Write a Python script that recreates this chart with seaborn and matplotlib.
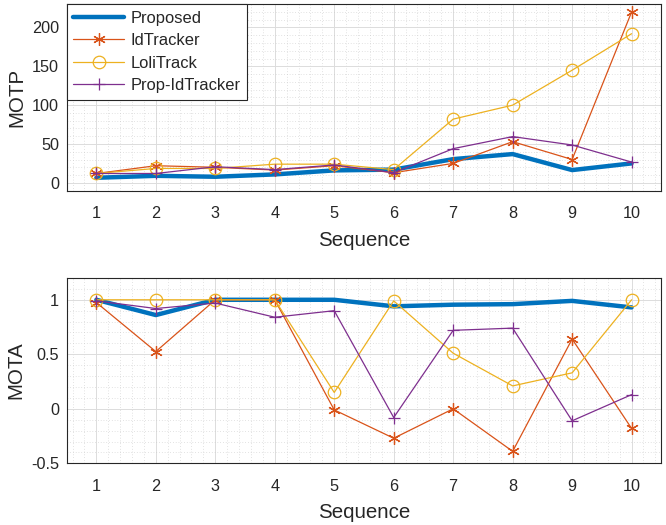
import matplotlib
matplotlib.use("Agg")
import matplotlib.pyplot as plt
import pandas as pd
import seaborn as sns
from matplotlib.ticker import MultipleLocator

# Data
sequence = [1, 2, 3, 4, 5, 6, 7, 8, 9, 10]
methods = ["Proposed", "IdTracker", "LoliTrack", "Prop-IdTracker"]

motp_proposed = [6.5, 9, 7.8, 10.8, 16, 17, 30.5, 37, 16.4, 25]
motp_idtracker = [12, 22, 20, 16.4, 22, 13, 25, 53, 30, 220]
motp_lolitrack = [12, 18.5, 18.5, 24, 24, 17, 82, 100, 145, 192]
motp_propid = [12, 12, 20.7, 17, 23, 13, 44, 59.5, 48.7, 26.7]

mota_proposed = [1.0, 0.86, 1.0, 1.0, 1.0, 0.94, 0.955, 0.96, 0.99, 0.93]
mota_idtracker = [0.975, 0.525, 1.0, 1.0, -0.01, -0.27, 0.0, -0.39, 0.64, -0.18]
mota_lolitrack = [1.0, 1.0, 1.0, 1.0, 0.15, 0.99, 0.51, 0.21, 0.33, 1.0]
mota_propid = [0.99, 0.92, 0.97, 0.84, 0.90, -0.08, 0.72, 0.74, -0.11, 0.13]

colors = {"Proposed": "#0072BD", "IdTracker": "#D95319",
          "LoliTrack": "#EDB120", "Prop-IdTracker": "#7E2F8E"}
markers = {"Proposed": None, "IdTracker": (6, 2, 0),
           "LoliTrack": "o", "Prop-IdTracker": "+"}
widths = {"Proposed": 3.2, "IdTracker": 0.9, "LoliTrack": 0.9, "Prop-IdTracker": 0.9}

motp = {"Proposed": motp_proposed, "IdTracker": motp_idtracker,
        "LoliTrack": motp_lolitrack, "Prop-IdTracker": motp_propid}
mota = {"Proposed": mota_proposed, "IdTracker": mota_idtracker,
        "LoliTrack": mota_lolitrack, "Prop-IdTracker": mota_propid}

sns.set_style("white")
plt.rcParams["font.family"] = ["Liberation Sans", "DejaVu Sans"]

fig = plt.figure(figsize=(6.66, 5.25), dpi=100)
ax1 = fig.add_axes([0.100, 0.637, 0.893, 0.355])
ax2 = fig.add_axes([0.100, 0.1175, 0.893, 0.353])


def draw(ax, data):
    for m in methods:
        df = pd.DataFrame({"Sequence": sequence, "value": data[m]})
        sns.lineplot(data=df, x="Sequence", y="value", ax=ax, color=colors[m],
                     linewidth=widths[m], marker=markers[m], markersize=9,
                     markerfacecolor="none", markeredgecolor=colors[m],
                     markeredgewidth=0.9, label=m, legend=False)


draw(ax1, motp)
draw(ax2, mota)

for ax in (ax1, ax2):
    ax.set_xlim(0.5, 10.5)
    ax.set_xticks(sequence)
    ax.xaxis.set_minor_locator(MultipleLocator(0.2))
    ax.set_xlabel("Sequence", fontsize=14.8, labelpad=7)
    ax.tick_params(axis="both", which="major", direction="in", length=4,
                   labelsize=11.7, color="#262626", width=0.8)
    ax.tick_params(axis="x", pad=11)
    ax.tick_params(axis="y", pad=5.5)
    ax.tick_params(which="minor", length=0)
    ax.grid(True, which="major", color="#dcdcdc", linewidth=0.7)
    ax.grid(True, which="minor", color="#c8c8c8", linestyle=(0, (1, 3)), linewidth=0.5)
    ax.set_axisbelow(True)
    for s in ax.spines.values():
        s.set_color("#262626")
        s.set_linewidth(0.8)

ax1.set_ylim(-10, 230)
ax1.set_yticks([0, 50, 100, 150, 200])
ax1.yaxis.set_minor_locator(MultipleLocator(10))
ax1.set_ylabel("MOTP", fontsize=14.8, labelpad=4)

ax2.set_ylim(-0.5, 1.2)
ax2.set_yticks([-0.5, 0, 0.5, 1])
ax2.set_yticklabels(["-0.5", "0", "0.5", "1"])
ax2.yaxis.set_minor_locator(MultipleLocator(0.1))
ax2.set_ylabel("MOTA", fontsize=14.8, labelpad=4)

leg = ax1.legend(loc="upper left", fontsize=11.9, frameon=True, fancybox=False,
                 borderaxespad=0, handlelength=3.1, borderpad=0.4,
                 labelspacing=0.45, handletextpad=0.35)
leg.get_frame().set_edgecolor("#262626")
leg.get_frame().set_linewidth(0.8)
leg.get_frame().set_alpha(1)

fig.savefig("out.png", dpi=100)
